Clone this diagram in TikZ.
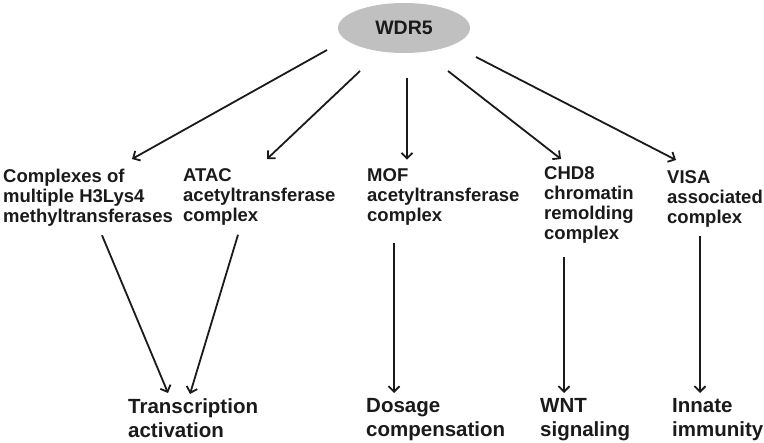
\documentclass[tikz,border=0pt]{standalone}
\usepackage{fontspec}
\setmainfont{Liberation Sans}
\usepackage{xcolor}
\usepackage{tikz}
\usetikzlibrary{positioning, arrows, arrows.meta, shapes.geometric}
\definecolor{ink}{HTML}{1A1A1A}
\definecolor{hub}{HTML}{C0C0C0}

\begin{document}
\begin{tikzpicture}[x=1pt, y=-1pt,
  cplxtext/.style={anchor=north west, inner sep=0pt, align=left, text=ink, font=\bfseries\fontsize{18.5}{20}\selectfont},
  effect/.style={anchor=north west, inner sep=0pt, align=left, text=ink, font=\bfseries\fontsize{20.5}{24}\selectfont},
  link/.style={ink, line width=1.8pt, -{Straight Barb[length=5.5pt, width=11pt]}}]
\useasboundingbox (0,0) rectangle (764,443);

% --- hub protein ---
\node[ellipse, fill=hub, minimum width=132pt, minimum height=50pt, text=ink, font=\bfseries\fontsize{19.5}{22}\selectfont] (wdr5) at (404,28) {WDR5};

% --- WDR5 containing complexes ---
\node[cplxtext] (cplx) at (3,168.6) {Complexes of\\multiple H3Lys4\\methyltransferases};
\node[cplxtext] (atac) at (183,168.6) {ATAC\\acetyltransferase\\complex};
\node[cplxtext] (mof) at (367,168.6) {MOF\\acetyltransferase\\complex};
\node[cplxtext] (chd) at (544,166.6) {CHD8\\chromatin\\remolding\\complex};
\node[cplxtext] (visa) at (667,170.6) {VISA\\associated\\complex};

% --- biological outcomes ---
\node[effect] (trans) at (128,398) {Transcription\\ activation};
\node[effect] (dosage) at (366,398) {Dosage\\ compensation};
\node[effect] (wnt) at (540,398) {WNT\\ signaling};
\node[effect] (innate) at (672,398) {Innate\\ immunity};

% --- WDR5 to complexes ---
\draw[link] ([shift={(-77,22)}]wdr5.center) -- ([shift={(129,-9.6)}]cplx.north west);
\draw[link] ([shift={(-44,43)}]wdr5.center) -- ([shift={(84,-9.6)}]atac.north west);
\draw[link] ([shift={(3,50)}]wdr5.center) -- ([shift={(40,-9)}]mof.north west);
\draw[link] ([shift={(44,43)}]wdr5.center) -- ([shift={(17,-7.6)}]chd.north west);
\draw[link] ([shift={(72,29)}]wdr5.center) -- ([shift={(9,-10.6)}]visa.north west);

% --- complexes to outcomes ---
\draw[link] ([shift={(99,9)}]cplx.south west) -- ([shift={(40,-5)}]trans.north west);
\draw[link] ([shift={(55,9)}]atac.south west) -- ([shift={(62,-4)}]trans.north west);
\draw[link] ([shift={(27,17)}]mof.south west) -- ([shift={(28,-5)}]dosage.north west);
\draw[link] ([shift={(20,13)}]chd.south west) -- ([shift={(24,-5)}]wnt.north west);
\draw[link] ([shift={(33,8)}]visa.south west) -- ([shift={(28,-5)}]innate.north west);
\end{tikzpicture}
\end{document}
